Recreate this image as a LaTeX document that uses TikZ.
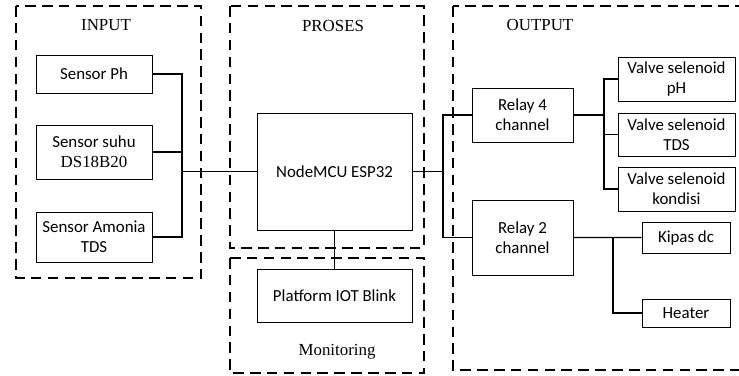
\documentclass[tikz,border=0pt]{standalone}
\usepackage{fontspec}
\setmainfont{Liberation Serif}
\newfontfamily\calibri{Carlito}
\usetikzlibrary{positioning}

\begin{document}
\begin{tikzpicture}[x=0.025cm,y=-0.025cm,on grid,
  blok/.style={draw,line width=0.6pt,inner sep=0pt,align=center,
    font=\calibri\fontsize{12}{14}\selectfont},
  wire/.style={line width=1pt},
  frame/.style={draw,line width=1.3pt,dash pattern=on 7.5pt off 4.5pt},
  title/.style={font=\fontsize{12}{14}\selectfont}]
  \useasboundingbox (0,0) rectangle (739,376);

  % frames
  \draw[frame] (16,6) rectangle (201,278);
  \draw[frame] (230,6) rectangle (424,248);
  \draw[frame] (230,258) rectangle (424,373);
  \draw[frame] (453,6) rectangle (750,370);
  \node[title] (T_in)  at (106,25) {INPUT};
  \node[title] (T_pro) at (333,26) {PROSES};
  \node[title] (T_out) at (540,25) {OUTPUT};
  \node[title] (T_mon) at (337,352) {Monitoring};

  % input
  \node[blok,minimum width=2.9cm,minimum height=0.95cm] (S_1) at (94,74) {Sensor Ph};
  \node[blok,minimum width=2.9cm,minimum height=1.35cm] (S_2) [below=1.95cm of S_1] {Sensor suhu\\{\rmfamily DS18B20}};
  \node[blok,minimum width=2.9cm,minimum height=1.25cm] (S_3) [below=2.125cm of S_2] {Sensor Amonia\\TDS};

  % proses
  \node[blok,minimum width=3.875cm,minimum height=2.925cm] (MCU) at (334.5,171.5) {NodeMCU ESP32};
  \node[blok,minimum width=3.875cm,minimum height=1.325cm] (IOT) [below=3.1cm of MCU] {Platform IOT Blink};

  % output
  \node[blok,minimum width=2.525cm,minimum height=1.35cm] (R_4) at (522.5,115) {Relay 4\\channel};
  \node[blok,minimum width=2.525cm,minimum height=1.875cm] (R_2) [below=3.0625cm of R_4] {Relay 2\\channel};
  \node[blok,minimum width=2.925cm,minimum height=1.1cm] (V_1) at (676.5,79) {Valve selenoid\\pH};
  \node[blok,minimum width=2.925cm,minimum height=1.075cm] (V_2) [below=1.3875cm of V_1] {Valve selenoid\\TDS};
  \node[blok,minimum width=2.925cm,minimum height=1.1cm] (V_3) [below=1.3625cm of V_2] {Valve selenoid\\kondisi};
  \node[blok,minimum width=2.2cm,minimum height=0.775cm] (K_1) at (686,237.5) {Kipas dc};
  \node[blok,minimum width=2.2cm,minimum height=0.7cm] (H_1) [below=1.8875cm of K_1] {Heater};

  % wiring
  \coordinate (inbus) at (182,171.5);
  \draw[wire] (S_1.east) -| (inbus);
  \draw[wire] (S_3.east) -| (inbus);
  \draw[wire] (S_2.east) -- (S_2.east -| inbus);
  \draw[wire] (inbus) -- (MCU.west);

  \draw[wire] (MCU.south) -- ++(0,15) -| (IOT.north);

  \coordinate (outbus) at (443,171.5);
  \draw[wire] (MCU.east) -- (outbus);
  \draw[wire] (R_4.west) -| (outbus) |- (R_2.west);

  \coordinate (vbus) at (604,115);
  \draw[wire] (R_4.east) -- (vbus);
  \draw[wire] (V_1.west) -| (vbus) |- (V_3.west);
  \draw[wire] (V_2.west) -- (V_2.west -| vbus);

  \coordinate (kbus) at (613,237.5);
  \draw[wire] (R_2.east) -- (K_1.west);
  \draw[wire] (kbus) |- (H_1.west);
\end{tikzpicture}
\end{document}
